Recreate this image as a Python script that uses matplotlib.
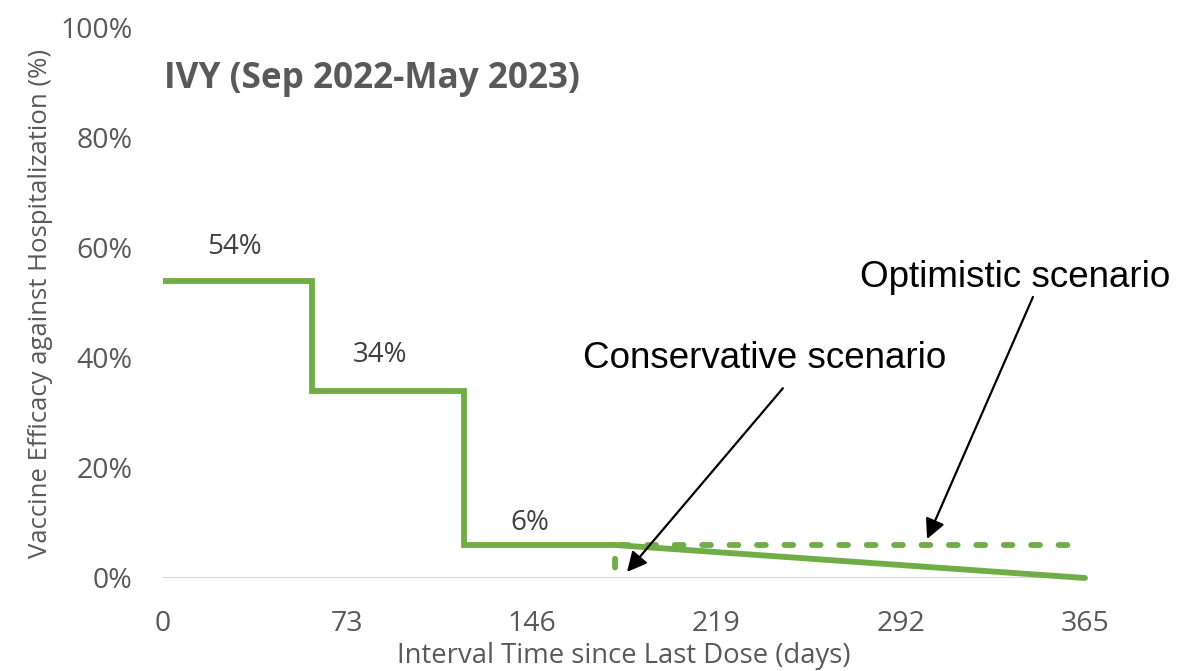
import matplotlib
matplotlib.use('Agg')
import matplotlib.pyplot as plt
from matplotlib.ticker import FuncFormatter

# -------------------------- data --------------------------
step_days = [0, 59, 59, 119, 119, 179]
step_ve = [54, 54, 34, 34, 6, 6]

conservative_days = [179, 365]
conservative_ve = [6, 0]

optimistic_days = [179, 179, 365]
optimistic_ve = [0, 6, 6]

label_days = [28.5, 86, 145.3]
label_ve = [60.2, 40.5, 10.0]
label_text = ['54%', '34%', '6%']

x_ticks = [0, 73, 146, 219, 292, 365]
y_ticks = [0, 20, 40, 60, 80, 100]

green = '#70AD47'
grey = '#595959'

# -------------------------- drawing --------------------------
plt.rcParams['font.family'] = ['Open Sans', 'DejaVu Sans']
fig = plt.figure(figsize=(11.79, 6.71), dpi=100)
ax = fig.add_axes([163 / 1179, (671 - 578) / 671, (1085 - 163) / 1179, (578 - 28) / 671])

ax.axhline(0, color='#d9d9d9', linewidth=1.5, zorder=1)

lw = 4.2
ax.plot(step_days, step_ve, color=green, linewidth=lw, solid_joinstyle='miter',
        solid_capstyle='butt', zorder=5, clip_on=False)
ax.plot(conservative_days, conservative_ve, color=green, linewidth=lw,
        solid_capstyle='round', zorder=5, clip_on=False)
# dash pattern is scaled by linewidth
ax.plot(optimistic_days, optimistic_ve, color=green, linewidth=lw,
        linestyle=(2.9, (1.5, 3.2)), dash_capstyle='round', zorder=4, clip_on=False)

for xd, yd, t in zip(label_days, label_ve, label_text):
    ax.text(xd, yd, t, ha='center', va='center', fontsize=20, color='#404040')

ax.annotate('', xy=(183.7, 1.1), xytext=(245.4, 34.5),
            arrowprops=dict(arrowstyle='-|>', color='black', lw=1.6, mutation_scale=30,
                            shrinkA=0, shrinkB=0), zorder=10)
ax.annotate('', xy=(302.5, 7.1), xytext=(344.4, 51.1),
            arrowprops=dict(arrowstyle='-|>', color='black', lw=1.6, mutation_scale=30,
                            shrinkA=0, shrinkB=0), zorder=10)
ax.text(238.3, 40.0, 'Conservative scenario', ha='center', va='center', fontsize=26.5,
        family=['Liberation Sans'], color='black')
ax.text(337.3, 54.7, 'Optimistic scenario', ha='center', va='center', fontsize=26.5,
        family=['Liberation Sans'], color='black')

ax.text(0.3, 90.8, 'IVY (Sep 2022-May 2023)', ha='left', va='center', fontsize=25.3,
        fontweight='bold', color=grey)

ax.set_xlim(0, 365)
ax.set_ylim(0, 100)
ax.set_xticks(x_ticks)
ax.set_yticks(y_ticks)
ax.yaxis.set_major_formatter(FuncFormatter(lambda v, p: f'{v:.0f}%'))
ax.tick_params(axis='both', length=0, labelsize=20.5, labelcolor=grey)
ax.tick_params(axis='x', pad=23)
ax.tick_params(axis='y', pad=22)

for s in ax.spines.values():
    s.set_visible(False)

ax.set_xlabel('Interval Time since Last Dose (days)', fontsize=19.8, color=grey, labelpad=3)
ax.set_ylabel('Vaccine Efficacy against Hospitalization (%)', fontsize=18.5, color=grey, labelpad=5.5)

plt.savefig('out.png', dpi=100)
